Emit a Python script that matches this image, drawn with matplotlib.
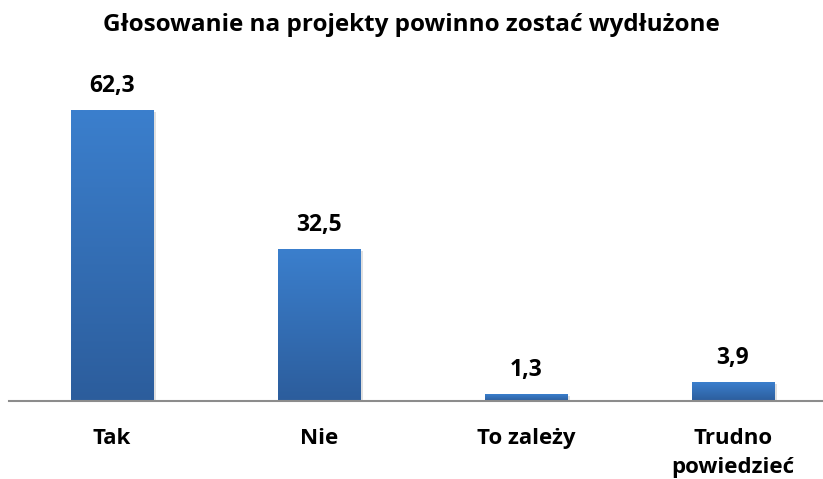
import matplotlib.pyplot as plt
import numpy as np
from matplotlib.colors import LinearSegmentedColormap

categories = ['Tak', 'Nie', 'To zależy', 'Trudno\npowiedzieć']
values = [62.3, 32.5, 1.3, 3.9]
value_labels = ['62,3', '32,5', '1,3', '3,9']

plt.rcParams['font.family'] = ['Open Sans', 'DejaVu Sans']

fig = plt.figure(figsize=(8.23, 4.79), dpi=100)
# axis line sits at ~401 px from top, categories 207 px apart
ax = fig.add_axes([8.5 / 823, 78 / 479, 828 / 823, 326 / 479])
ax.set_xlim(-0.5, 3.5)
ax.set_ylim(0, 70)

cmap = LinearSegmentedColormap.from_list('bar', ['#2c5d9c', '#3b7fcd'])
grad = np.linspace(0, 1, 256).reshape(-1, 1)
width = 0.4

x = np.arange(len(categories))
bars = ax.bar(x, values, width=width, color='none', zorder=2)
for b in bars:
    x0, y0 = b.get_x(), b.get_y()
    w, h = b.get_width(), b.get_height()
    # soft shadow
    ax.bar(x0 + w / 2 + 0.012, h, width=w, bottom=-0.3, color='#000000', alpha=0.12, zorder=1)
    ax.imshow(grad, extent=[x0, x0 + w, y0, y0 + h], origin='lower', aspect='auto',
              cmap=cmap, zorder=3)

for xi, v, lab in zip(x, values, value_labels):
    ax.annotate(lab, (xi, v), xytext=(0, 13.5), textcoords='offset points',
                ha='center', va='baseline', fontsize=16.5, fontweight='bold', color='#000000')

ax.set_xlim(-0.5, 3.5)
ax.set_ylim(0, 70)
ax.set_xticks(x)
ax.set_xticklabels(categories, fontsize=16, fontweight='bold', linespacing=1.5)
ax.tick_params(axis='x', length=0, pad=19.5)
ax.set_yticks([])
for s in ['top', 'right', 'left']:
    ax.spines[s].set_visible(False)
ax.spines['bottom'].set_color('#8c8c8c')
ax.spines['bottom'].set_linewidth(1.5)
ax.spines['bottom'].set_zorder(4)

fig.text(0.5, 1 - 31 / 479, 'Głosowanie na projekty powinno zostać wydłużone',
         ha='center', va='baseline', fontsize=17.5, fontweight='bold')

fig.savefig('out.png', dpi=100)
